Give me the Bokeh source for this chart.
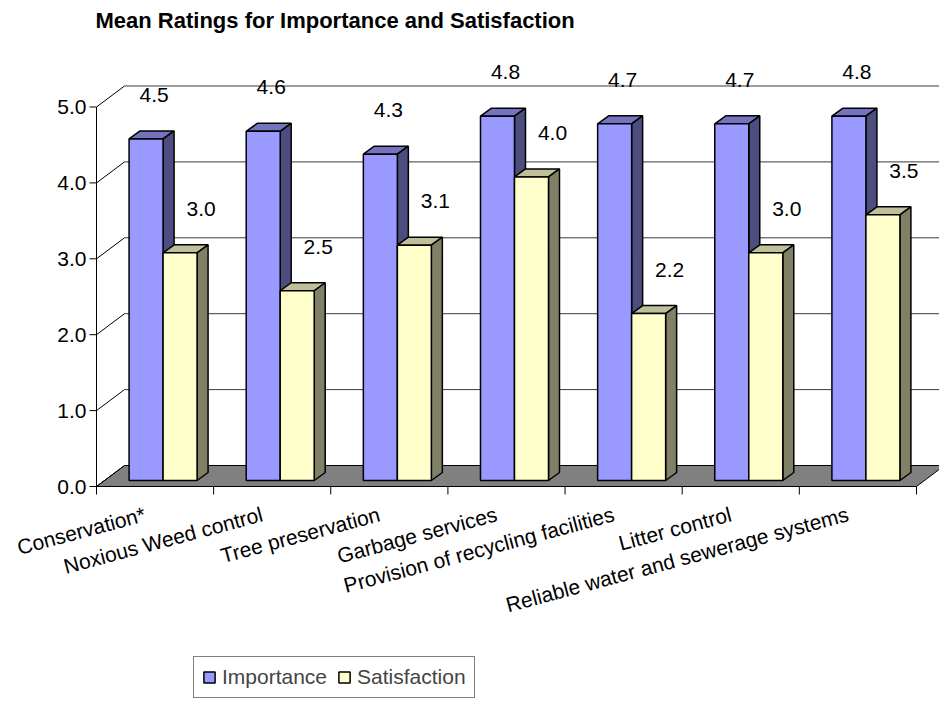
from bokeh.plotting import figure
from bokeh.models import Range1d, ColumnDataSource, Legend, LegendItem
from bokeh.core.properties import value
from bokeh.embed import file_html
from bokeh.resources import INLINE

# ---------------- data ----------------
title_text = "Mean Ratings for Importance and Satisfaction"
categories = ["Conservation*", "Noxious Weed control", "Tree preservation",
              "Garbage services", "Provision of recycling facilities",
              "Litter control", "Reliable water and sewerage systems"]
importance = [4.5, 4.6, 4.3, 4.8, 4.7, 4.7, 4.8]
satisfaction = [3.0, 2.5, 3.1, 4.0, 2.2, 3.0, 3.5]
y_ticks = [0, 1, 2, 3, 4, 5]
y_tick_labels = ["0.0", "1.0", "2.0", "3.0", "4.0", "5.0"]
series_names = ["Importance", "Satisfaction"]

# ---------------- geometry helpers (pixel -> data units) ----------------
PXX, PXY = 117.14, 75.9          # pixels per category, pixels per rating unit
X0, Y0 = 96, 486                 # pixel position of the front axes origin
W, H = 939, 704

def hx(px):
    return px / PXX

def vy(px):
    return px / PXY

FONT = "Liberation Sans"
FS = "21px"
n = len(categories)

p = figure(width=W, height=H,
           x_range=Range1d(-hx(X0), hx(W - X0)),
           y_range=Range1d(-vy(H - Y0), vy(Y0)),
           output_backend="svg", toolbar_location=None,
           x_axis_location=None, y_axis_location=None,
           min_border=0, outline_line_color=None)
p.grid.visible = False
p.background_fill_color = "white"
p.border_fill_color = "white"

# depth of the 3D box and of each bar
depth_x, depth_y = hx(28), vy(21)
bar_dx, bar_dy = hx(11), vy(8)
shift_x, shift_y = hx(8), vy(6)
bar_w = hx(34)

# floor
p.patch([0, n, n + depth_x, depth_x], [0, 0, depth_y, depth_y],
        fill_color="#808080", line_color="black", line_width=1)

# back wall gridlines
grid_vals = [v for v in y_ticks if v > 0]
p.multi_line(xs=[[depth_x, n + depth_x] for v in grid_vals],
             ys=[[v + depth_y, v + depth_y] for v in grid_vals],
             line_color="#3a3a3a", line_width=1)
# side wall diagonals
p.multi_line(xs=[[0, depth_x] for v in y_ticks],
             ys=[[v, v + depth_y] for v in y_ticks],
             line_color="black", line_width=1)

# value axis
p.segment(x0=[0], y0=[0], x1=[0], y1=[max(y_ticks)], line_color="black", line_width=1)
p.segment(x0=[-hx(7)] * len(y_ticks), y0=y_ticks, x1=[0] * len(y_ticks), y1=y_ticks,
          line_color="black", line_width=1)
p.text(x=[-hx(10)] * len(y_ticks), y=y_ticks, text=y_tick_labels,
       text_align="right", text_baseline="middle",
       text_font=value(FONT), text_font_size=FS, text_color="black")

# category axis
p.segment(x0=[0], y0=[0], x1=[n], y1=[0], line_color="black", line_width=1)
p.segment(x0=list(range(n + 1)), y0=[0] * (n + 1), x1=list(range(n + 1)),
          y1=[-vy(8)] * (n + 1), line_color="black", line_width=1)
p.text(x=[i + 0.5 - hx(13) for i in range(n)], y=[-vy(16)] * n, text=categories,
       angle=15, angle_units="deg", text_align="right", text_baseline="top",
       text_font=value(FONT), text_font_size=FS, text_color="black")

# bars
styles = [
    dict(front="#9999FF", top="#7373BF", side="#4D4D80"),
    dict(front="#FFFFCC", top="#BFBF99", side="#808066"),
]
front_renderers = []
label_dx = [hx(8), hx(21)]
for s, vals in enumerate([importance, satisfaction]):
    lefts = [i + 0.5 - bar_w + s * bar_w + shift_x for i in range(n)]
    rights = [l + bar_w for l in lefts]
    bottoms = [shift_y] * n
    tops = [shift_y + v for v in vals]
    st = styles[s]
    # top faces
    p.patches(xs=[[l, r, r + bar_dx, l + bar_dx] for l, r in zip(lefts, rights)],
              ys=[[t, t, t + bar_dy, t + bar_dy] for t in tops],
              fill_color=st["top"], line_color="black", line_width=1.5)
    # side faces
    p.patches(xs=[[r, r + bar_dx, r + bar_dx, r] for r in rights],
              ys=[[b, b + bar_dy, t + bar_dy, t] for b, t in zip(bottoms, tops)],
              fill_color=st["side"], line_color="black", line_width=1.5)
    # front faces
    src = ColumnDataSource(dict(left=lefts, right=rights, bottom=bottoms, top=tops))
    fr = p.quad(left="left", right="right", bottom="bottom", top="top", source=src,
                fill_color=st["front"], line_color="black", line_width=1.5)
    front_renderers.append(fr)
    # value labels
    p.text(x=[(l + r) / 2 + label_dx[s] for l, r in zip(lefts, rights)],
           y=[t + vy(44) for t in tops], text=[f"{v:.1f}" for v in vals],
           text_align="center", text_baseline="middle",
           text_font=value(FONT), text_font_size=FS, text_color="black")

# title
p.text(x=[-hx(1)], y=[vy(Y0 - 20)], text=[title_text],
       text_align="left", text_baseline="middle", text_font=value(FONT),
       text_font_size="22px", text_font_style="bold", text_color="black")

legend = Legend(items=[LegendItem(label=series_names[k], renderers=[front_renderers[k]])
                       for k in range(2)],
                location=(193, 6), orientation="horizontal",
                label_text_font=FONT, label_text_font_size=FS,
                glyph_width=14, glyph_height=14, label_standoff=6, spacing=10,
                padding=8, margin=0, border_line_color="black", border_line_width=1,
                background_fill_alpha=1.0, label_height=20)
p.add_layout(legend)

open("out.html", "w").write(file_html(p, INLINE))
